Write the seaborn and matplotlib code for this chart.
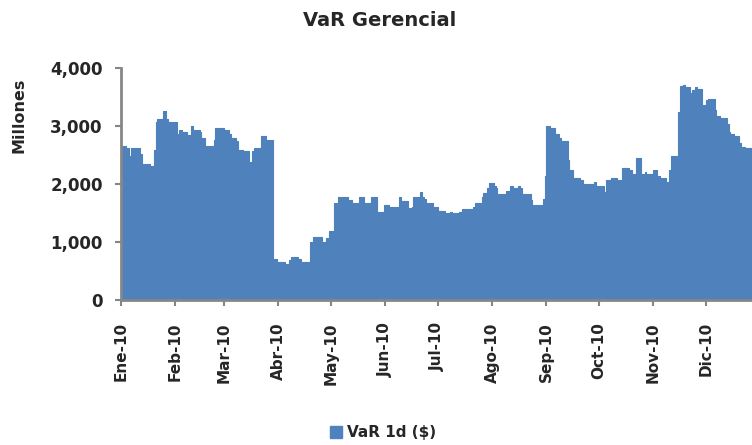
import pandas as pd
import matplotlib
matplotlib.use('Agg')
import matplotlib.pyplot as plt
import matplotlib.dates as mdates
from matplotlib.patches import Patch
from matplotlib.ticker import FuncFormatter
import seaborn as sns

# daily VaR (millions), one value per business day of 2010
var_1d = [
    2659,
    2619, 2619, 2486, 2619, 2619,
    2619, 2515, 2100, 2342, 2342,
    2313, 2313, 2590, 3067, 3119,
    3263, 3263, 3119, 3067, 3067,
    3067, 2866, 2924, 2924, 2889,
    2849, 2849, 3004, 2935, 2935,
    2889, 2791, 2791, 2659, 2659,
    2659, 2762, 2964, 2964, 2964,
    2935, 2935, 2935, 2860, 2791,
    2734, 2590, 2590, 2590, 2561,
    2388, 2388, 2561, 2619, 2619,
    2831, 2831, 2831, 2762, 2762,
    702, 702, 662, 662, 662,
    622, 622, 690, 737, 737,
    702, 702, 662, 662, 662,
    1007, 1007, 1082, 1082, 1082,
    1007, 1007, 1065, 1065, 1197,
    1680, 1680, 1784, 1784, 1784,
    1784, 1727, 1727, 1669, 1669,
    1772, 1772, 1772, 1669, 1669,
    1772, 1772, 1772, 1525, 1525,
    1640, 1640, 1640, 1611, 1611,
    1611, 1611, 1772, 1715, 1715,
    1583, 1583, 1611, 1784, 1784,
    1870, 1784, 1738, 1669, 1669,
    1600, 1600, 1600, 1542, 1542,
    1496, 1496, 1496, 1525, 1496,
    1496, 1525, 1525, 1565, 1565,
    1565, 1565, 1600, 1669, 1669,
    1772, 1842, 1842, 1928, 2026,
    1968, 1928, 1830, 1830, 1830,
    1888, 1888, 1968, 1968, 1928,
    1968, 1928, 1830, 1830, 1830,
    1727, 1640, 1640, 1640, 1640,
    1738, 2141, 3004, 3004, 2964,
    2866, 2866, 2791, 2734, 2734,
    2417, 2244, 2244, 2100, 2100,
    2072, 2072, 2003, 2003, 2003,
    2003, 2032, 1968, 1968, 1968,
    1870, 2072, 2072, 2072, 2100,
    2072, 2072, 2072, 2273, 2273,
    2244, 2244, 2175, 2175, 2446,
    2175, 2175, 2204, 2175, 2175,
    2244, 2244, 2141, 2141, 2100,
    2032, 2032, 2244, 2486, 2486,
    3234, 3683, 3683, 3712, 3672,
    3568, 3614, 3614, 3672, 3637,
    3367, 3367, 3442, 3465, 3465,
    3280, 3177, 3177, 3137, 3137,
    3039, 2889, 2866, 2866, 2831,
    2716, 2647, 2647, 2619, 2619,
    2417, 2400, 2380, 2360, 2340,
]
month_starts = pd.date_range('2010-01-01', '2010-12-01', freq='MS')
month_labels = ['Ene-10', 'Feb-10', 'Mar-10', 'Abr-10', 'May-10', 'Jun-10',
                'Jul-10', 'Ago-10', 'Sep-10', 'Oct-10', 'Nov-10', 'Dic-10']
y_ticks = [0, 1000, 2000, 3000, 4000]

df = pd.DataFrame({'fecha': pd.bdate_range('2010-01-01', '2010-12-31'), 'var': var_1d})

sns.set_style('white')
plt.rcParams['font.family'] = ['DejaVu Sans']
plt.rcParams['font.weight'] = 'bold'

blue = '#4F81BD'
grey = '#868686'

fig = plt.figure(figsize=(7.52, 4.45), dpi=100)
# the original excel chart is cut on the right, so the axes runs past the figure edge
ax = fig.add_axes([0.1605, 0.3258, 0.8505, 0.5213])

sns.lineplot(data=df, x='fecha', y='var', drawstyle='steps-post', color=blue, linewidth=0.8, ax=ax)
ax.fill_between(df['fecha'], df['var'], step='post', color=blue, linewidth=0)

ax.set_xlim(pd.Timestamp('2010-01-01'), pd.Timestamp('2011-01-01'))
ax.set_ylim(0, 4000)
ax.set_yticks(y_ticks)
ax.yaxis.set_major_formatter(FuncFormatter(lambda v, p: f'{int(v):,}'))
ax.set_xticks(month_starts)
ax.set_xticklabels(month_labels, rotation=90, fontsize=11, fontweight='bold')
ax.tick_params(axis='y', labelsize=12, length=4, width=1.5, color=grey, pad=9, direction='out', left=True)
ax.tick_params(axis='x', length=4, width=1.5, color=grey, pad=12, direction='out', bottom=True)
for lab in ax.get_yticklabels():
    lab.set_fontweight('bold')
ax.set_xlabel('')
ax.set_ylabel('')

sns.despine(ax=ax)
for side in ['left', 'bottom']:
    ax.spines[side].set_color(grey)
    ax.spines[side].set_linewidth(2)

fig.text(380 / 752, 1 - 20 / 445, 'VaR Gerencial', ha='center', va='center', fontsize=14, fontweight='bold')
fig.text(19 / 752, 1 - 115 / 445, 'Millones', rotation=90, ha='center', va='center', fontsize=11.5, fontweight='bold')

handle = Patch(facecolor=blue, edgecolor=blue)
fig.legend([handle], ['VaR 1d ($)'], loc='center', bbox_to_anchor=(383 / 752, 1 - 433 / 445),
           frameon=False, handlelength=0.8, handleheight=0.8, handletextpad=0.3,
           prop={'weight': 'bold', 'size': 11})

fig.savefig('out.png', dpi=100)
